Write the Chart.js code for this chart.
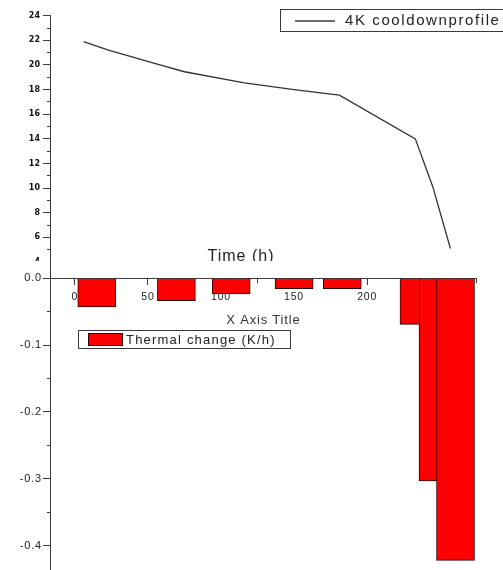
<!DOCTYPE html>
<html>
<head>
<meta charset="utf-8">
<script src="https://cdn.jsdelivr.net/npm/chart.js@4.4.0/dist/chart.umd.min.js"></script>
<style>
  html, body { margin: 0; padding: 0; background: #fff; }
  #wrap { position: relative; width: 503px; height: 570px; overflow: hidden; }
  .box { position: absolute; left: 0; top: 0; width: 503px; }
</style>
</head>
<body>
<div id="wrap">
  <div class="box" style="height:290px"><canvas id="tempChart"></canvas></div>
  <div class="box" style="height:570px"><canvas id="rateChart"></canvas></div>
</div>
<script>
// cooldown curve (top)
const timeH = [6, 23, 57, 75, 116, 150, 181, 233, 245, 257];
const tempK = [21.9, 21.2, 20.05, 19.45, 18.55, 18.0, 17.55, 14.0, 10.1, 5.1];

// thermal change bars (bottom)
const barTime = [15, 69.5, 107, 150, 183, 235.5, 248.5, 260.5];
const rateKh = [-0.043, -0.0335, -0.0235, -0.0155, -0.0155, -0.069, -0.303, -0.422];

// ticks
const tempTicks = [4, 6, 8, 10, 12, 14, 16, 18, 20, 22, 24];
const tempMinor = [3, 5, 7, 9, 11, 13, 15, 17, 19, 21, 23];
const rateTicks = [0, -0.1, -0.2, -0.3, -0.4];
const rateMinor = [-0.05, -0.15, -0.25, -0.35];
const timeTicks = [0, 50, 100, 150, 200, 250];
const timeMinor = [25, 75, 125, 175, 225, 275];

const isIn = (arr, v) => arr.some(t => Math.abs(t - v) < 1e-9);
const axisColor = '#3a3a3a';

// legend + axis title of the top plot
const topDecor = {
    id: 'topDecor',
    afterDraw(chart) {
        const c = chart.ctx;
        c.save();
        c.strokeStyle = axisColor;
        c.lineWidth = 1;
        c.strokeRect(280.5, 9.5, 230, 22);
        c.beginPath();
        c.moveTo(295, 21);
        c.lineTo(335, 21);
        c.lineWidth = 1.3;
        c.stroke();
        c.fillStyle = '#222';
        c.letterSpacing = '1.6px';
        c.font = '15px "Liberation Sans", Arial, sans-serif';
        c.textBaseline = 'middle';
        c.fillText(chart.data.datasets[0].label, 345, 21);
        c.letterSpacing = '1px';
        c.font = '16px "Liberation Sans", Arial, sans-serif';
        c.textAlign = 'center';
        c.fillText('Time (h)', 241, 257);
        c.restore();
    }
};

// white page of the lower plot + its legend
const bottomDecor = {
    id: 'bottomDecor',
    beforeDraw(chart) {
        const c = chart.ctx;
        c.save();
        c.fillStyle = '#fff';
        c.fillRect(0, 261, 50, 309);
        c.fillRect(51, 261, 452, 309);
        c.restore();
        c.letterSpacing = '0.8px';
    },
    afterDraw(chart) {
        const c = chart.ctx;
        const ds = chart.data.datasets[0];
        c.save();
        c.strokeStyle = axisColor;
        c.lineWidth = 1;
        c.strokeRect(78.5, 330.5, 212, 18);
        c.fillStyle = ds.backgroundColor;
        c.fillRect(88.5, 333.5, 34, 12);
        c.strokeStyle = ds.borderColor;
        c.strokeRect(88.5, 333.5, 34, 12);
        c.fillStyle = '#222';
        c.letterSpacing = '1.2px';
        c.font = '13px "Liberation Sans", Arial, sans-serif';
        c.textBaseline = 'middle';
        c.fillText(ds.label, 126, 340);
        c.restore();
    }
};

new Chart(document.getElementById('tempChart'), {
    type: 'line',
    data: {
        datasets: [{
            label: '4K cooldownprofile',
            data: timeH.map((t, i) => ({ x: t, y: tempK[i] })),
            borderColor: '#333',
            borderWidth: 1.3,
            pointRadius: 0,
            tension: 0,
            fill: false
        }]
    },
    options: {
        responsive: true,
        maintainAspectRatio: false,
        animation: false,
        layout: { padding: { left: 0, top: 15.7, right: 26.3, bottom: 11.7 } },
        plugins: { legend: { display: false }, tooltip: { enabled: false } },
        scales: {
            x: { type: 'linear', min: -17, max: 275, display: false },
            y: {
                min: 2.68, max: 24,
                afterBuildTicks: s => { s.ticks = tempTicks.concat(tempMinor).sort((a, b) => a - b).map(v => ({ value: v })); },
                afterFit: s => { s.width = 50; s.paddingTop = 0; s.paddingBottom = 0; },
                ticks: {
                    autoSkip: false,
                    padding: 3,
                    color: '#111',
                    font: { family: '"DejaVu Sans"', size: 8, weight: 'bold' },
                    callback: v => isIn(tempTicks, v) ? String(v) : ''
                },
                grid: {
                    drawOnChartArea: false,
                    tickLength: 7,
                    tickColor: axisColor,
                    tickBorderDash: ctx => (ctx.tick && isIn(tempMinor, ctx.tick.value)) ? [0, 4, 3] : []
                },
                border: { color: axisColor, width: 1 }
            }
        }
    },
    plugins: [topDecor]
});

new Chart(document.getElementById('rateChart'), {
    type: 'bar',
    data: {
        datasets: [{
            label: 'Thermal change (K/h)',
            data: barTime.map((t, i) => ({ x: t, y: rateKh[i] })),
            backgroundColor: '#ff0000',
            borderColor: '#2a0000',
            borderWidth: 1,
            barThickness: 38
        }]
    },
    options: {
        responsive: true,
        maintainAspectRatio: false,
        animation: false,
        layout: { padding: { left: 0, top: 278.3, right: 26.3, bottom: 0 } },
        plugins: { legend: { display: false }, tooltip: { enabled: false } },
        scales: {
            x: {
                type: 'linear',
                position: { y: 0 },
                min: -17, max: 275,
                offset: false,
                z: 1,
                afterBuildTicks: s => { s.ticks = timeTicks.concat(timeMinor).sort((a, b) => a - b).map(v => ({ value: v })); },
                afterFit: s => { s.paddingLeft = 0; s.paddingRight = 0; },
                ticks: {
                    autoSkip: false,
                    maxRotation: 0,
                    padding: 7,
                    color: '#222',
                    font: { family: '"Liberation Sans", Arial', size: 10.5 },
                    callback: v => isIn(timeTicks, v) ? String(v) : ''
                },
                grid: {
                    offset: false,
                    drawOnChartArea: false,
                    tickLength: 6,
                    tickColor: axisColor,
                    tickBorderDash: ctx => (ctx.tick && isIn(timeMinor, ctx.tick.value)) ? [4, 20] : []
                },
                border: { color: axisColor, width: 1 },
                title: {
                    display: true,
                    text: 'X Axis Title',
                    color: '#333',
                    font: { family: '"Liberation Sans", Arial', size: 13 },
                    padding: { top: 2, bottom: 0 }
                }
            },
            y: {
                min: -0.4364, max: 0,
                afterBuildTicks: s => { s.ticks = rateTicks.concat(rateMinor).sort((a, b) => a - b).map(v => ({ value: v })); },
                afterFit: s => { s.width = 50; s.paddingTop = 0; s.paddingBottom = 0; },
                ticks: {
                    autoSkip: false,
                    padding: 1,
                    color: '#222',
                    font: { family: '"Liberation Sans", Arial', size: 11 },
                    callback: v => isIn(rateTicks, v) ? v.toFixed(1) : ''
                },
                grid: {
                    drawOnChartArea: false,
                    tickLength: 7,
                    tickColor: axisColor,
                    tickBorderDash: ctx => (ctx.tick && isIn(rateMinor, ctx.tick.value)) ? [0, 4, 3] : []
                },
                border: { color: axisColor, width: 1 }
            }
        }
    },
    plugins: [bottomDecor]
});
</script>
</body>
</html>
